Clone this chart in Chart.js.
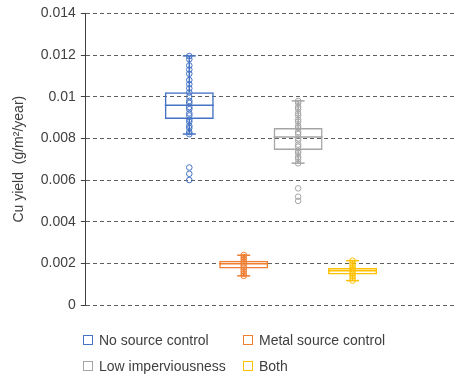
<!DOCTYPE html>
<html>
<head>
<meta charset="utf-8">
<script src="https://cdn.jsdelivr.net/npm/chart.js@4.4.0/dist/chart.umd.min.js"></script>
<style>
  body { margin: 0; background: #fff; }
  .wrap { position: relative; width: 456px; height: 379px; }
  #legend {
    position: absolute; left: 83px; top: 330px;
    display: grid; grid-template-columns: 160px 160px; row-gap: 7px;
    font-family: 'Liberation Sans', Arial, sans-serif; font-size: 14px; color: #404040;
  }
  .item { display: flex; align-items: center; height: 19px; white-space: nowrap; }
  .swatch { width: 8px; height: 8px; border: 1.5px solid; margin-right: 6px; background: #fff; }
</style>
</head>
<body>
<div class="wrap">
  <canvas id="chart" width="456" height="379"></canvas>
  <div id="legend"></div>
</div>
<script>
// series, in the order Excel drew them
const categories = ['No source control', 'Metal source control', 'Low imperviousness', 'Both'];
const colors = ['#4472C4', '#ED7D31', '#A5A5A5', '#FFC000'];

// box statistics
const whiskerLow = [0.00821, 0.00140, 0.00681, 0.00117];
const q1 = [0.00893, 0.00175, 0.00744, 0.00146];
const median = [0.00959, 0.00198, 0.00806, 0.00165];
const q3 = [0.01021, 0.00212, 0.00850, 0.00178];
const whiskerHigh = [0.01196, 0.00239, 0.00980, 0.00213];

// individual yields (circles)
const noSourcePoints = [0.01195, 0.0118, 0.0115, 0.0113, 0.0111, 0.0108, 0.0106, 0.0104, 0.0102,
  0.0100, 0.0098, 0.0097, 0.0095, 0.0094, 0.0092, 0.0091, 0.0089, 0.0088,
  0.0086, 0.0085, 0.0083, 0.0082, 0.0066, 0.0063, 0.0060];
const metalPoints = [0.0024, 0.0023, 0.0022, 0.0021, 0.0020, 0.0019, 0.0018, 0.0017, 0.0016, 0.0015, 0.0014];
const lowImpPoints = [0.0098, 0.0097, 0.0095, 0.0094, 0.0092, 0.0091, 0.0089, 0.0088, 0.0086,
  0.0085, 0.0083, 0.0082, 0.0080, 0.0079, 0.0077, 0.0076, 0.0074, 0.0073,
  0.0071, 0.0070, 0.0068, 0.0056, 0.0052, 0.0050];
const bothPoints = [0.00213, 0.0020, 0.0019, 0.0018, 0.0017, 0.0016, 0.0015, 0.0014, 0.0013, 0.00117];
const points = [noSourcePoints, metalPoints, lowImpPoints, bothPoints];

const yTicks = ['0', '0.002', '0.004', '0.006', '0.008', '0.01', '0.012', '0.014'];

const font = { family: "'Liberation Sans', Arial, sans-serif", size: 14 };

// draws median, whiskers and the circles on top of the floating bars
const boxPlugin = {
  id: 'boxWhisker',
  afterDatasetsDraw(chart) {
    const ctx = chart.ctx;
    const y = chart.scales.y;
    const line = (x1, y1, x2, y2) => {
      ctx.beginPath(); ctx.moveTo(x1, y1); ctx.lineTo(x2, y2); ctx.stroke();
    };
    chart.data.datasets.forEach((ds, i) => {
      const bar = chart.getDatasetMeta(i).data[0];
      const x = bar.x, half = bar.width / 2;
      const yHi = y.getPixelForValue(whiskerHigh[i]);
      const yLo = y.getPixelForValue(whiskerLow[i]);
      ctx.save();
      ctx.strokeStyle = colors[i];
      ctx.lineWidth = 1.5;
      line(x - half, y.getPixelForValue(median[i]), x + half, y.getPixelForValue(median[i]));
      line(x, y.getPixelForValue(q3[i]), x, yHi);
      line(x, y.getPixelForValue(q1[i]), x, yLo);
      line(x - 6.5, yHi, x + 6.5, yHi);
      line(x - 6.5, yLo, x + 6.5, yLo);
      ctx.lineWidth = 1;
      points[i].forEach(v => {
        ctx.beginPath();
        ctx.arc(x, y.getPixelForValue(v), 2.8, 0, Math.PI * 2);
        ctx.stroke();
      });
      ctx.restore();
    });
  }
};

new Chart(document.getElementById('chart'), {
  type: 'bar',
  data: {
    labels: [''],
    datasets: categories.map((name, i) => ({
      label: name,
      data: [[q1[i], q3[i]]],
      backgroundColor: 'rgba(0,0,0,0)',
      borderColor: colors[i],
      borderWidth: 1.5,
      borderSkipped: false,
      categoryPercentage: 0.588,
      barPercentage: 0.9
    }))
  },
  options: {
    responsive: false,
    animation: false,
    layout: { padding: { top: 5, right: 0, bottom: 74, left: 11 } },
    plugins: { legend: { display: false }, tooltip: { enabled: false } },
    scales: {
      x: { display: false },
      y: {
        min: 0,
        max: 0.014,
        ticks: {
          stepSize: 0.002,
          font: font,
          color: '#404040',
          padding: 5,
          callback: v => yTicks[Math.round(v / 0.002)]
        },
        grid: { color: '#5f5f5f', tickColor: '#404040', tickLength: 5 },
        border: { dash: [4, 3], color: '#404040', width: 1 },
        title: { display: true, text: 'Cu yield  (g/m²/year)', font: { family: font.family, size: 14 }, color: '#404040', padding: { top: 0, bottom: 8 } }
      }
    }
  },
  plugins: [boxPlugin]
});

// legend in two columns like the original
const legend = document.getElementById('legend');
[0, 1, 2, 3].forEach(i => {
  const item = document.createElement('div');
  item.className = 'item';
  const sw = document.createElement('span');
  sw.className = 'swatch';
  sw.style.borderColor = colors[i];
  item.appendChild(sw);
  item.appendChild(document.createTextNode(categories[i]));
  legend.appendChild(item);
});
</script>
</body>
</html>
